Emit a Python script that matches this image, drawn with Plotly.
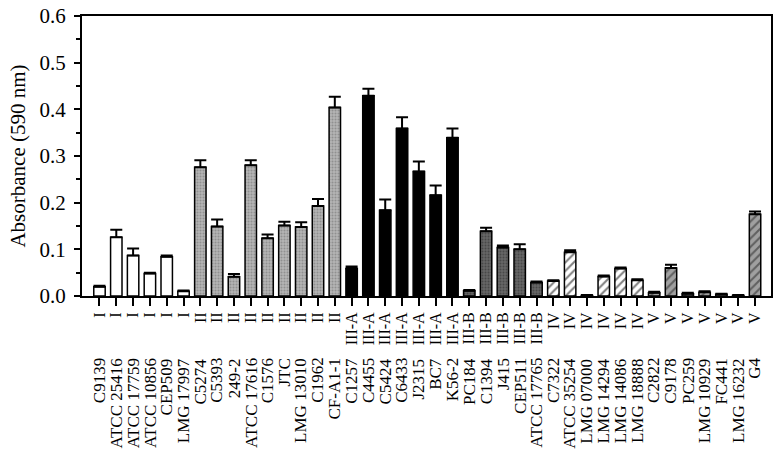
import plotly.graph_objects as go

# ── data ────────────────────────────────────────────────────────────
STRAINS = [
    "C9139", "ATCC 25416", "ATCC 17759", "ATCC 10856", "CEP509", "LMG 17997",
    "C5274", "C5393", "249-2", "ATCC 17616", "C1576", "JTC", "LMG 13010", "C1962", "CF-A1-1",
    "C1257", "C4455", "C5424", "C6433", "J2315", "BC7", "K56-2",
    "PC184", "C1394", "J415", "CEP511", "ATCC 17765",
    "C7322", "ATCC 35254", "LMG 07000", "LMG 14294", "LMG 14086", "LMG 18888",
    "C2822", "C9178", "PC259", "LMG 10929", "FC441", "LMG 16232", "G4",
]
GROUPS = (["I"] * 6 + ["II"] * 9 + ["III-A"] * 7 + ["III-B"] * 5
          + ["IV"] * 6 + ["V"] * 7)
ABSORBANCE = [
    0.020, 0.126, 0.087, 0.048, 0.084, 0.010,
    0.276, 0.149, 0.041, 0.280, 0.124, 0.151, 0.148, 0.193, 0.404,
    0.059, 0.429, 0.184, 0.359, 0.267, 0.216, 0.339,
    0.011, 0.139, 0.104, 0.100, 0.029,
    0.032, 0.094, 0.001, 0.042, 0.059, 0.034,
    0.007, 0.060, 0.005, 0.008, 0.004, 0.001, 0.175,
]
ERROR = [
    0.002, 0.016, 0.015, 0.002, 0.003, 0.002,
    0.015, 0.015, 0.006, 0.011, 0.008, 0.008, 0.010, 0.015, 0.023,
    0.004, 0.015, 0.023, 0.024, 0.021, 0.021, 0.020,
    0.002, 0.007, 0.004, 0.011, 0.002,
    0.002, 0.004, 0.001, 0.002, 0.002, 0.002,
    0.002, 0.007, 0.002, 0.002, 0.001, 0.001, 0.006,
]

FONT = "Liberation Serif, Times New Roman, serif"

# ── fill style per group ────────────────────────────────────────────
STYLE = {
    "I":     dict(color="white"),
    "II":    dict(color="#aaaaaa",
                  pattern=dict(shape=".", fgcolor="#6c6c6c", bgcolor="#b4b4b4", size=3, solidity=0.35)),
    "III-A": dict(color="black"),
    "III-B": dict(color="#5a5a5a",
                  pattern=dict(shape=".", fgcolor="#2a2a2a", bgcolor="#666666", size=3, solidity=0.35)),
    "IV":    dict(color="white",
                  pattern=dict(shape="/", fgcolor="black", bgcolor="white", size=6, solidity=0.35)),
    "V":     dict(color="#9c9c9c",
                  pattern=dict(shape="/", fgcolor="#202020", bgcolor="#a0a0a0", size=6, solidity=0.35)),
}

fig = go.Figure()
for grp in ["I", "II", "III-A", "III-B", "IV", "V"]:
    idx = [i for i, g in enumerate(GROUPS) if g == grp]
    fig.add_trace(go.Bar(
        x=idx,
        y=[ABSORBANCE[i] for i in idx],
        width=0.68,
        marker=dict(line=dict(color="black", width=1.5), **STYLE[grp]),
        error_y=dict(type="data", symmetric=False,
                     array=[ERROR[i] for i in idx],
                     arrayminus=[0] * len(idx),
                     color="black", thickness=2, width=6),
        name=grp,
        showlegend=False,
    ))

# strain names as a second row of rotated labels
for i, s in enumerate(STRAINS):
    fig.add_annotation(
        x=i, y=-0.215, xref="x", yref="paper",
        text=s, textangle=-90, showarrow=False,
        xanchor="center", yanchor="top",
        font=dict(family=FONT, size=17, color="black"),
    )

fig.update_layout(
    width=782, height=458,
    margin=dict(l=82, r=11, t=16, b=162),
    paper_bgcolor="white", plot_bgcolor="white",
    font=dict(family=FONT, color="black"),
    barmode="overlay",
    xaxis=dict(
        range=[-1.04, 39.95], automargin=False,
        tickvals=list(range(len(GROUPS))), ticktext=GROUPS,
        tickangle=-90, tickfont=dict(size=16),
        ticks="outside", ticklen=8, tickwidth=1.5, tickcolor="black",
        showline=True, linecolor="black", linewidth=2, mirror=True,
        showgrid=False, zeroline=False,
    ),
    yaxis=dict(
        range=[0, 0.6], dtick=0.1, tickformat=".1f", automargin=False,
        tickfont=dict(size=21), ticklabeloverflow="allow", ticklabelstandoff=4,
        ticks="outside", ticklen=6, tickwidth=1.5, tickcolor="black",
        minor=dict(dtick=0.05, ticks="outside", ticklen=4, tickcolor="black"),
        showline=True, linecolor="black", linewidth=2, mirror=True,
        showgrid=False, zeroline=False,
        title=dict(text="Absorbance (590 nm)", font=dict(size=21), standoff=8),
    ),
)

# drop the page's default body margin so the 782x458 figure fills the window
fig.write_html("out.html", config={"displayModeBar": False},
               post_script="document.body.style.margin='0';")
